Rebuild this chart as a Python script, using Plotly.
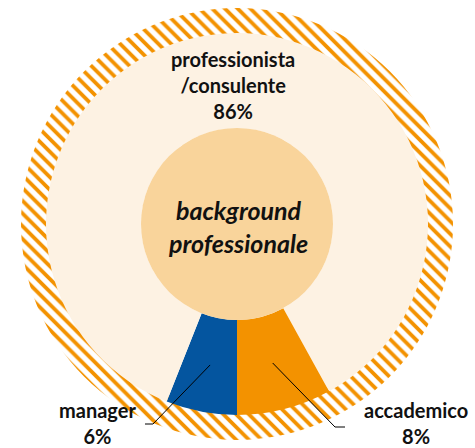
import math
import plotly.graph_objects as go

# dati
labels = ["manager", "professionista<br>/consulente", "accademico"]
values = [6, 86, 8]
colors = ["#04559F", "#FDF2E3", "#F39200"]
center_text = "background<br>professionale"

W, H = 475, 448
CX, CY = 237, 224
R_OUT, R_PIE, R_HOLE = 216, 191, 96


def px(x, y):
    return x / W, 1 - y / H


def dom(r):
    return dict(x=[(CX - r) / W, (CX + r) / W], y=[1 - (CY + r) / H, 1 - (CY - r) / H])


def pt(theta, r):
    t = math.radians(theta)
    return CX + r * math.sin(t), CY - r * math.cos(t)


fig = go.Figure()

# anello esterno a righe
fig.add_trace(go.Pie(values=[1], domain=dom(R_OUT), hole=0.86, sort=False,
                     marker=dict(colors=["white"],
                                 pattern=dict(shape="\\", fgcolor="#F39200", bgcolor="white",
                                              size=9, solidity=0.42)),
                     textinfo="none", hoverinfo="skip", showlegend=False))

# torta principale
fig.add_trace(go.Pie(values=values, labels=labels, domain=dom(R_PIE), hole=R_HOLE / R_PIE,
                     sort=False, direction="clockwise", rotation=180,
                     marker=dict(colors=colors, line=dict(width=0)),
                     textinfo="none", hoverinfo="skip", showlegend=False))

# cerchio centrale
fig.add_trace(go.Pie(values=[1], domain=dom(R_HOLE), sort=False,
                     marker=dict(colors=["#F9D49B"], line=dict(width=0)),
                     textinfo="none", hoverinfo="skip", showlegend=False))

font = dict(family="Lato", size=20, color="#111111")


def label(x, y, text, f=font):
    fig.add_annotation(x=px(x, y)[0], y=px(x, y)[1], xref="paper", yref="paper",
                       xanchor="center", yanchor="middle", text=text, showarrow=False,
                       font=f, align="center")


label(233, 85, "<b>%s<br>%d%%</b>" % (labels[1], values[1]))
label(238, 226, "<b><i>%s</i></b>" % center_text,
      dict(family="Lato", size=25, color="#111111"))

# etichette esterne con linee
mids = []
acc = 180.0
for v in values:
    span = v / sum(values) * 360
    mids.append(acc + span / 2)
    acc += span

side = [
    (0, (97, 423), (153, 424), (145, 424)),
    (2, (416, 423), (335, 427), (345, 427)),
]
for i, lab, knee, end in side:
    sx, sy = pt(mids[i], (R_PIE + R_HOLE) / 2)
    p0, p1, p2 = px(sx, sy), px(*knee), px(*end)
    fig.add_shape(type="path", xref="paper", yref="paper",
                  path="M %f %f L %f %f L %f %f" % (p0[0], p0[1], p1[0], p1[1], p2[0], p2[1]),
                  line=dict(color="black", width=1))
    label(lab[0], lab[1], "<b>%s<br>%d%%</b>" % (labels[i], values[i]))

fig.update_layout(width=W, height=H, margin=dict(l=0, r=0, t=0, b=0),
                  paper_bgcolor="white", plot_bgcolor="white")

fig.write_html("out.html", config={"displayModeBar": False},
               post_script="document.body.style.margin='0';")
